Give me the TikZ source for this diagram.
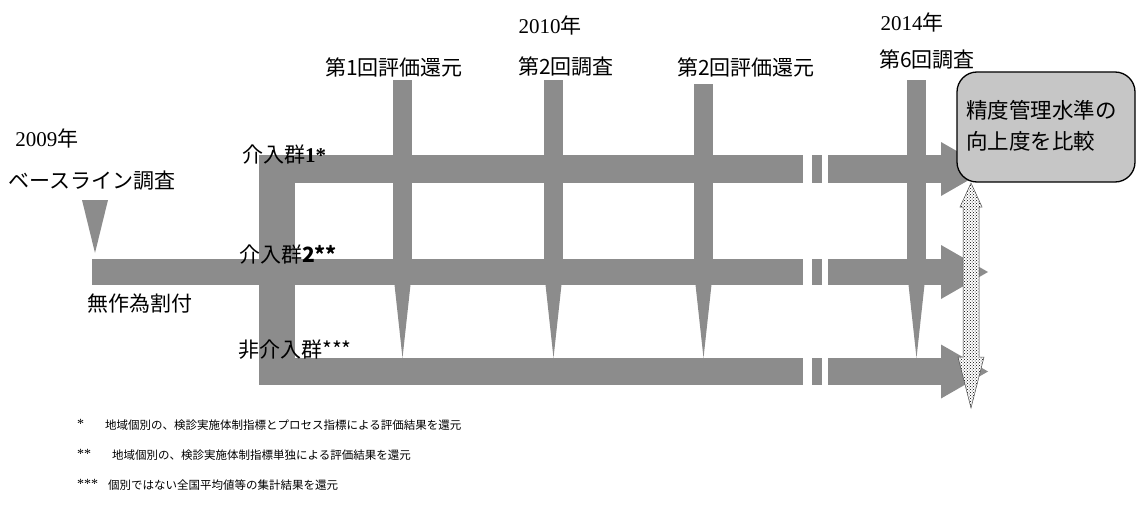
\documentclass[tikz,border=0pt]{standalone}
\usepackage{fontspec}
\setmainfont{Liberation Serif}
\newfontfamily\jp{Noto Sans CJK JP}
\usetikzlibrary{patterns}
\definecolor{barc}{RGB}{140,140,140}
\definecolor{boxg}{RGB}{198,198,198}
\begin{document}
\begin{tikzpicture}[x=1pt,y=-1pt,
  lbl/.style={font=\jp\fontsize{21}{23}\selectfont, inner sep=0pt},
  yr/.style={font=\fontsize{21}{23}\selectfont, inner sep=0pt},
  note/.style={font=\jp\fontsize{11.5}{13}\selectfont, inner sep=0pt, anchor=west},
  star/.style={font=\fontsize{14}{16}\selectfont, inner sep=0pt, anchor=west},
  gapc/.style={fill=white, draw=none}]
\useasboundingbox (0,0) rectangle (1137,508);
% baseline triangle and shaft
\fill[barc] (82,200) -- (108,200) -- (95,253) -- cycle;
\fill[barc] (92,259) rectangle (295,285);
% left vertical bar
\fill[barc] (259,155) rectangle (295,385);
% three group arrows
\foreach \yc/\h in {169/14, 272/13, 371.5/13.5} {
  \fill[barc] (259,\yc-\h) rectangle (943,\yc+\h);
  \fill[barc] (941,\yc-27) -- (988,\yc) -- (941,\yc+27) -- cycle;
  \fill[gapc] (803,\yc-\h-1) rectangle (812,\yc+\h+1);
  \fill[gapc] (822,\yc-\h-1) rectangle (828,\yc+\h+1);
}
% vertical timeline bars
\foreach \xl/\top in {393/80, 544/80, 694/84, 907/80} {
  \fill[barc] (\xl,\top) rectangle (\xl+19,272);
  \fill[barc] (\xl,271) -- (\xl+19,271) -- (\xl+9.5,358) -- cycle;
}
% result box
\draw[fill=boxg, line width=1.3pt, rounded corners=20pt] (957,72) rectangle (1135,182);
\node[lbl, anchor=west, align=left, font=\jp\fontsize{21.5}{31}\selectfont] (res) at (966,126) {精度管理水準の\\向上度を比較};
% dotted double arrow
\draw[preaction={fill=white}, pattern=crosshatch dots, pattern color=black, draw=black!70, line width=0.5pt]
  (971,183) -- (982,207) -- (979,207) -- (979,357) -- (984,357) -- (971,408) -- (958,357) -- (963,357) -- (963,207) -- (960,207) -- cycle;
% labels
\node[yr] (y2009) at (47,138) {2009{\jp 年}};
\node[lbl] (base) at (92,181) {ベースライン調査};
\node[lbl] (rand) at (140,304) {無作為割付};
\node[lbl] (g1) at (284,155) {介入群{\rmfamily\bfseries 1*}};
\node[lbl] (g2) at (288,255) {介入群\textbf{2**}};
\node[lbl] (g3) at (295,350) {非介入群***};
\node[lbl] (t1) at (394,67) {第1回評価還元};
\node[yr] (y2010) at (550,25) {2010{\jp 年}};
\node[lbl] (t2) at (566,67) {第2回調査};
\node[lbl] (t3) at (746,67) {第2回評価還元};
\node[yr] (y2014) at (912,22) {2014{\jp 年}};
\node[lbl] (t4) at (927,60) {第6回調査};
% footnotes
\node[star] (s1) at (77,424) {*};
\node[note] (n1) at (105,425) {地域個別の、検診実施体制指標とプロセス指標による評価結果を還元};
\node[star] (s2) at (77,454) {**};
\node[note] (n2) at (112,455) {地域個別の、検診実施体制指標単独による評価結果を還元};
\node[star] (s3) at (77,484) {***};
\node[note] (n3) at (108,485) {個別ではない全国平均値等の集計結果を還元};
\end{tikzpicture}
\end{document}
